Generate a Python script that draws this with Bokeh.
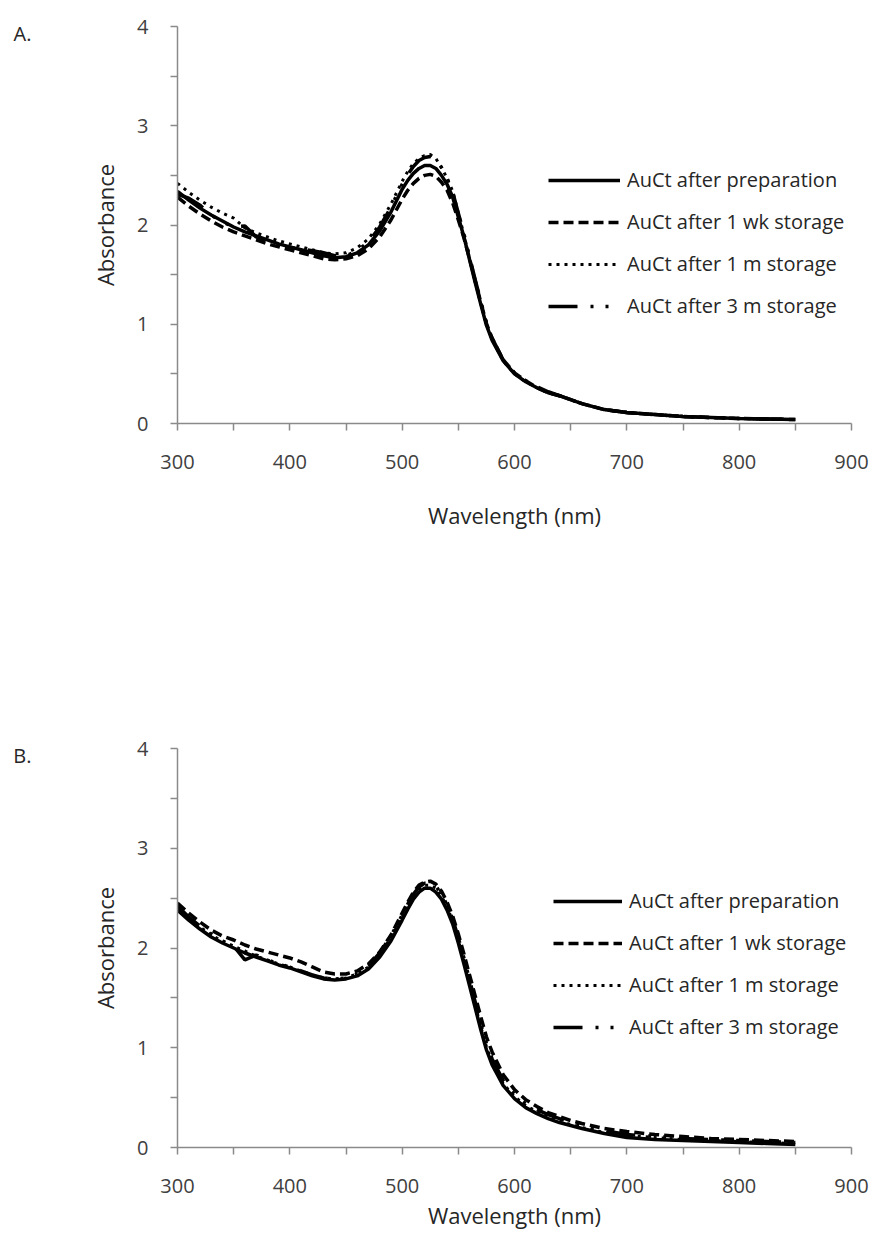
from bokeh.plotting import figure
from bokeh.models import Range1d, FixedTicker, Legend, LegendItem, LinearAxis
from bokeh.layouts import column
from bokeh.embed import file_html
from bokeh.resources import INLINE

# ---------------- data ----------------
WAVELENGTH = [300, 310, 320, 330, 340, 350, 360, 370, 380, 390, 400, 410, 420, 430, 440,
              450, 460, 470, 480, 490, 500, 505, 510, 515, 520, 525, 530, 535, 540, 545,
              550, 555, 560, 565, 570, 575, 580, 590, 600, 610, 620, 630, 640, 650, 660,
              680, 700, 725, 750, 775, 800, 825, 850]

# Panel A
A_PREP = [2.34, 2.25, 2.17, 2.10, 2.04, 1.98, 1.93, 1.89, 1.85, 1.81, 1.78, 1.75, 1.72, 1.69, 1.67,
          1.68, 1.72, 1.80, 1.94, 2.13, 2.36, 2.45, 2.52, 2.57, 2.60, 2.60, 2.57, 2.50, 2.41, 2.28,
          2.08, 1.88, 1.65, 1.42, 1.20, 0.99, 0.84, 0.63, 0.50, 0.42, 0.36, 0.31, 0.28, 0.24, 0.20,
          0.14, 0.11, 0.09, 0.07, 0.06, 0.05, 0.045, 0.04]
A_1WK = [2.28, 2.19, 2.11, 2.04, 1.98, 1.93, 1.89, 1.85, 1.81, 1.78, 1.75, 1.72, 1.69, 1.66, 1.65,
         1.66, 1.69, 1.76, 1.88, 2.05, 2.26, 2.35, 2.42, 2.47, 2.50, 2.51, 2.49, 2.43, 2.35, 2.22,
         2.05, 1.87, 1.66, 1.44, 1.22, 1.01, 0.86, 0.64, 0.51, 0.43, 0.36, 0.31, 0.28, 0.24, 0.20,
         0.14, 0.11, 0.09, 0.07, 0.06, 0.05, 0.045, 0.04]
A_1M = [2.42, 2.33, 2.25, 2.18, 2.12, 2.07, 1.97, 1.92, 1.88, 1.84, 1.81, 1.78, 1.75, 1.72, 1.71,
        1.72, 1.77, 1.86, 2.01, 2.21, 2.44, 2.54, 2.62, 2.67, 2.70, 2.71, 2.67, 2.58, 2.47, 2.34,
        2.12, 1.90, 1.66, 1.43, 1.21, 1.00, 0.85, 0.63, 0.50, 0.42, 0.36, 0.31, 0.28, 0.24, 0.20,
        0.14, 0.11, 0.09, 0.07, 0.06, 0.05, 0.045, 0.04]
A_3M = [2.31, 2.27, 2.20, 2.10, 2.03, 1.98, 1.99, 1.88, 1.84, 1.80, 1.77, 1.76, 1.74, 1.72, 1.69,
        1.69, 1.74, 1.83, 1.98, 2.18, 2.41, 2.51, 2.59, 2.65, 2.68, 2.69, 2.66, 2.58, 2.47, 2.33,
        2.12, 1.91, 1.68, 1.45, 1.23, 1.02, 0.86, 0.64, 0.51, 0.43, 0.37, 0.32, 0.28, 0.24, 0.20,
        0.14, 0.11, 0.09, 0.07, 0.06, 0.05, 0.045, 0.04]

# Panel B
B_PREP = [2.38, 2.28, 2.19, 2.11, 2.05, 2.00, 1.95, 1.91, 1.87, 1.83, 1.80, 1.76, 1.72, 1.69, 1.68,
          1.69, 1.72, 1.79, 1.91, 2.07, 2.28, 2.39, 2.49, 2.56, 2.60, 2.60, 2.56, 2.49, 2.38, 2.24,
          2.05, 1.84, 1.62, 1.40, 1.18, 0.98, 0.83, 0.62, 0.49, 0.40, 0.34, 0.29, 0.25, 0.22, 0.19,
          0.14, 0.10, 0.08, 0.07, 0.06, 0.05, 0.04, 0.03]
B_1WK = [2.45, 2.35, 2.26, 2.18, 2.12, 2.08, 2.03, 1.99, 1.96, 1.93, 1.90, 1.86, 1.81, 1.76, 1.74,
         1.74, 1.77, 1.84, 1.96, 2.13, 2.35, 2.46, 2.56, 2.63, 2.66, 2.67, 2.64, 2.57, 2.46, 2.32,
         2.14, 1.94, 1.73, 1.52, 1.31, 1.11, 0.96, 0.73, 0.58, 0.48, 0.41, 0.35, 0.31, 0.27, 0.24,
         0.19, 0.16, 0.13, 0.11, 0.09, 0.08, 0.07, 0.06]
B_1M = [2.40, 2.30, 2.21, 2.13, 2.07, 2.02, 1.97, 1.92, 1.88, 1.84, 1.81, 1.77, 1.73, 1.70, 1.69,
        1.70, 1.74, 1.81, 1.94, 2.10, 2.31, 2.42, 2.52, 2.59, 2.63, 2.63, 2.60, 2.52, 2.41, 2.27,
        2.08, 1.87, 1.65, 1.43, 1.21, 1.01, 0.86, 0.64, 0.51, 0.42, 0.36, 0.31, 0.27, 0.23, 0.20,
        0.15, 0.12, 0.10, 0.08, 0.07, 0.06, 0.05, 0.04]
B_3M = [2.42, 2.31, 2.22, 2.14, 2.07, 2.02, 1.88, 1.93, 1.88, 1.84, 1.81, 1.77, 1.73, 1.70, 1.69,
        1.70, 1.74, 1.82, 1.95, 2.12, 2.33, 2.44, 2.54, 2.61, 2.65, 2.65, 2.62, 2.54, 2.43, 2.29,
        2.10, 1.90, 1.68, 1.46, 1.24, 1.04, 0.89, 0.67, 0.53, 0.44, 0.38, 0.33, 0.29, 0.25, 0.22,
        0.17, 0.13, 0.11, 0.09, 0.08, 0.07, 0.06, 0.05]

SERIES_LABELS = ["AuCt after preparation", "AuCt after 1 wk storage",
                 "AuCt after 1 m storage", "AuCt after 3 m storage"]
X_TICKS = [300, 400, 500, 600, 700, 800, 900]
X_MINOR = [350, 450, 550, 650, 750, 850]
Y_TICKS = [0, 1, 2, 3, 4]
Y_MINOR = [0.5, 1.5, 2.5, 3.5]
PANEL_TAGS = ["A.", "B."]

# ---------------- styling ----------------
AXIS_COLOR = "#8a8a8a"
TEXT_COLOR = "#262626"
TICK_COLOR = "#404040"
FONT = "Open Sans"
DASHES = ["solid", "10 5", "3 5", "29 13 3 12 3 13"]
WIDTHS = [3.5, 3.5, 3.0, 3.5]
TAG_LEVEL = 3.93  # vertical anchor of the panel tag, just under the top of the y range


def make_panel(series, tag, height, top, bottom, legend_xy, glyph_w, title_standoff):
    p = figure(width=872, height=height,
               x_range=Range1d(300, 900), y_range=Range1d(0, 4),
               output_backend="svg", toolbar_location=None,
               min_border_left=177, min_border_right=21,
               min_border_top=top, min_border_bottom=bottom)
    p.xgrid.visible = False
    p.ygrid.visible = False
    p.outline_line_color = None
    p.background_fill_color = None
    p.border_fill_color = None

    p.xaxis.ticker = FixedTicker(ticks=X_TICKS, minor_ticks=X_MINOR)
    p.yaxis.ticker = FixedTicker(ticks=Y_TICKS, minor_ticks=Y_MINOR)
    for ax in (p.xaxis, p.yaxis):
        ax.axis_line_color = AXIS_COLOR
        ax.axis_line_width = 1.5
        ax.major_tick_line_color = AXIS_COLOR
        ax.minor_tick_line_color = AXIS_COLOR
        ax.major_tick_line_width = 1.5
        ax.minor_tick_line_width = 1.5
        ax.major_tick_in = 0
        ax.major_tick_out = 7
        ax.minor_tick_in = 0
        ax.minor_tick_out = 7
        ax.major_label_text_font = FONT
        ax.major_label_text_font_size = "20px"
        ax.major_label_text_color = TICK_COLOR
        ax.axis_label_text_font = FONT
        ax.axis_label_text_font_size = "22px"
        ax.axis_label_text_font_style = "normal"
        ax.axis_label_text_color = TEXT_COLOR
    p.xaxis.major_label_standoff = 24
    p.yaxis.major_label_standoff = 22
    p.xaxis.axis_label = "Wavelength (nm)"
    p.yaxis.axis_label = "Absorbance"
    p.xaxis.axis_label_standoff = title_standoff
    p.yaxis.axis_label_standoff = 14

    items = []
    for ys, lab, dash, w in zip(series, SERIES_LABELS, DASHES, WIDTHS):
        r = p.line(WAVELENGTH, ys, line_color="black", line_width=w, line_dash=dash)
        items.append(LegendItem(label=lab, renderers=[r]))

    leg = Legend(items=items, location=legend_xy,
                 border_line_color=None, background_fill_alpha=0,
                 padding=0, margin=0, spacing=15,
                 glyph_width=glyph_w, glyph_height=20, label_height=20,
                 label_standoff=7,
                 label_text_font=FONT, label_text_font_size="20px",
                 label_text_color=TEXT_COLOR)
    p.add_layout(leg)

    # panel tag ("A." / "B."), drawn as the single label of an outer, line-less left axis
    tag_axis = LinearAxis(ticker=FixedTicker(ticks=[TAG_LEVEL], minor_ticks=[]),
                          major_label_overrides={TAG_LEVEL: tag},
                          axis_line_color=None, major_tick_line_color=None,
                          minor_tick_line_color=None, major_tick_out=0, major_tick_in=0,
                          major_label_standoff=56,
                          major_label_text_font=FONT, major_label_text_font_size="20px",
                          major_label_text_color=TEXT_COLOR)
    p.add_layout(tag_axis, "left")
    return p


pA = make_panel([A_PREP, A_1WK, A_1M, A_3M], PANEL_TAGS[0], 620, 26, 197, (371, 104), 72, 28)
pB = make_panel([B_PREP, B_1WK, B_1M, B_3M], PANEL_TAGS[1], 631, 128, 104, (376, 107), 69, 4)

layout = column(pA, pB, spacing=0)
open("out.html", "w").write(file_html(layout, INLINE))
